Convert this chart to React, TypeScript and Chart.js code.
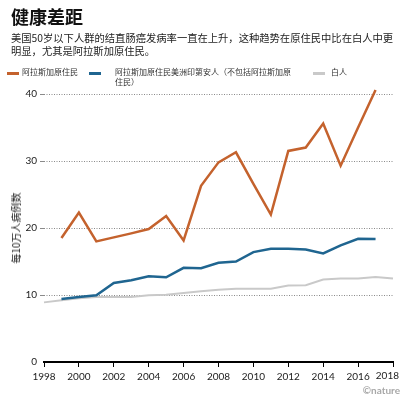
import React, { useEffect, useRef } from "react";
import { Chart, registerables } from "chart.js";

Chart.register(...registerables);

const TITLE = "健康差距";
const SUBTITLE_1 = "美国50岁以下人群的结直肠癌发病率一直在上升，这种趋势在原住民中比在白人中更";
const SUBTITLE_2 = "明显，尤其是阿拉斯加原住民。";
const Y_TITLE = "每10万人病例数";
const CREDIT = "©nature";

const SERIES_NAMES = [
  "阿拉斯加原住民",
  "阿拉斯加原住民美洲印第安人（不包括阿拉斯加原住民）",
  "白人",
];
const LEGEND_BLUE_LINE1 = "阿拉斯加原住民美洲印第安人（不包括阿拉斯加原";
const LEGEND_BLUE_LINE2 = "住民）";

const COLORS = ["#c4622d", "#1f6590", "#c9c9c9"];

const YEARS_NATIVE = [1999, 2000, 2001, 2002, 2003, 2004, 2005, 2006, 2007, 2008, 2009, 2010, 2011, 2012, 2013, 2014, 2015, 2016, 2017];
const ALASKA_NATIVE = [18.5, 22.3, 18.0, 18.6, 19.2, 19.85, 21.8, 18.15, 26.3, 29.8, 31.3, 26.6, 22.0, 31.5, 32.0, 35.6, 29.3, 35.0, 40.6];
const AMERICAN_INDIAN = [9.4, 9.7, 9.95, 11.8, 12.2, 12.8, 12.65, 14.05, 14.0, 14.8, 15.0, 16.4, 16.9, 16.9, 16.8, 16.2, 17.4, 18.4, 18.35];

const YEARS_WHITE = [1998, 1999, 2000, 2001, 2002, 2003, 2004, 2005, 2006, 2007, 2008, 2009, 2010, 2011, 2012, 2013, 2014, 2015, 2016, 2017, 2018];
const WHITE = [8.9, 9.2, 9.5, 9.7, 9.7, 9.7, 9.95, 10.05, 10.3, 10.55, 10.8, 10.95, 10.95, 10.95, 11.4, 11.45, 12.3, 12.45, 12.45, 12.7, 12.45];

const X_MIN = 1998;
const X_MAX = 2018;
const X_STEP = 2;
const Y_MIN = 0;
const Y_MAX = 40;
const Y_STEP = 10;

const NUM_FONT = "Lato, 'Noto Sans CJK SC', sans-serif";
const CJK_FONT = "'Noto Sans CJK SC', 'Noto Sans', sans-serif";

function toPoints(xs: number[], ys: number[]) {
  return xs.map((x, i) => ({ x, y: ys[i] }));
}

// Draws the last x tick label kept inside the canvas (right-aligned when it would overflow)
const lastXLabelPlugin = {
  id: "lastXLabel",
  afterDraw(chart: any) {
    const scale = chart.scales.x;
    if (!scale) return;
    const ctx = chart.ctx;
    const label = String(X_MAX);
    ctx.save();
    ctx.font = `10px ${NUM_FONT}`;
    ctx.fillStyle = "#222";
    ctx.textBaseline = "top";
    const w = ctx.measureText(label).width;
    const px = scale.getPixelForValue(X_MAX);
    const cx = Math.min(px, chart.width - 1 - w / 2);
    ctx.textAlign = "center";
    ctx.fillText(label, cx, scale.top + 5 + 4);
    ctx.restore();
  },
};

export default function App() {
  const canvasRef = useRef<HTMLCanvasElement | null>(null);

  useEffect(() => {
    const canvas = canvasRef.current;
    if (!canvas) return;
    const chart = new Chart(canvas, {
      type: "line",
      data: {
        datasets: [
          {
            label: SERIES_NAMES[0],
            data: toPoints(YEARS_NATIVE, ALASKA_NATIVE),
            borderColor: COLORS[0],
            backgroundColor: COLORS[0],
            borderWidth: 2.5,
            pointRadius: 0,
            tension: 0,
            clip: false as any,
          },
          {
            label: SERIES_NAMES[1],
            data: toPoints(YEARS_NATIVE, AMERICAN_INDIAN),
            borderColor: COLORS[1],
            backgroundColor: COLORS[1],
            borderWidth: 2.5,
            pointRadius: 0,
            tension: 0,
            clip: false as any,
          },
          {
            label: SERIES_NAMES[2],
            data: toPoints(YEARS_WHITE, WHITE),
            borderColor: COLORS[2],
            backgroundColor: COLORS[2],
            borderWidth: 2,
            pointRadius: 0,
            tension: 0,
            clip: false as any,
          },
        ],
      },
      options: {
        animation: false,
        responsive: false,
        devicePixelRatio: 1,
        layout: { padding: { top: 94, right: 7, left: 0, bottom: 0 } },
        plugins: {
          legend: { display: false },
          tooltip: { enabled: false },
          title: { display: false },
        },
        scales: {
          x: {
            type: "linear",
            min: X_MIN,
            max: X_MAX,
            afterFit: (s: any) => {
              s.height = 38;
              s.paddingLeft = 0;
              s.paddingRight = 0;
            },
            ticks: {
              stepSize: X_STEP,
              padding: 4,
              color: "#222",
              font: { family: NUM_FONT, size: 10 },
              maxRotation: 0,
              autoSkip: false,
              callback: (v: any) => (v === X_MAX ? "" : String(v)),
            },
            grid: {
              drawOnChartArea: false,
              drawTicks: true,
              tickLength: 5,
              color: "#000",
              lineWidth: 1,
            },
            border: { display: true, color: "#000", width: 2 },
          },
          y: {
            type: "linear",
            min: Y_MIN,
            max: Y_MAX,
            afterFit: (s: any) => {
              s.width = 44;
            },
            ticks: {
              stepSize: Y_STEP,
              padding: 3,
              color: "#222",
              font: { family: NUM_FONT, size: 10 },
            },
            grid: {
              color: (ctx: any) => (ctx.tick && ctx.tick.value === 0 ? "rgba(0,0,0,0)" : "#8a8a8a"),
              lineWidth: 1,
              tickLength: 4,
              drawTicks: true,
            },
            border: { display: false, dash: [1, 1.5] },
          },
        },
      },
      plugins: [lastXLabelPlugin],
    });
    return () => chart.destroy();
  }, []);

  const swatch = (color: string, left: number) => (
    <div
      style={{
        position: "absolute",
        left,
        top: 72,
        width: 12,
        height: 2.5,
        background: color,
      }}
    />
  );

  return (
    <div
      style={{
        position: "fixed",
        left: 0,
        top: 0,
        width: 400,
        height: 400,
        background: "#fff",
        overflow: "hidden",
      }}
    >
      <canvas
        ref={canvasRef}
        width={400}
        height={400}
        style={{ position: "absolute", left: 0, top: 0, width: 400, height: 400 }}
      />
      <div
        style={{
          position: "absolute",
          left: 11,
          top: 6,
          fontFamily: CJK_FONT,
          fontWeight: 700,
          fontSize: 18,
          lineHeight: "20px",
          color: "#111",
          whiteSpace: "nowrap",
        }}
      >
        {TITLE}
      </div>
      <div
        style={{
          position: "absolute",
          left: 11,
          top: 31,
          fontFamily: CJK_FONT,
          fontSize: 10.3,
          lineHeight: "13px",
          color: "#222",
          whiteSpace: "nowrap",
        }}
      >
        <div>{SUBTITLE_1}</div>
        <div>{SUBTITLE_2}</div>
      </div>
      {swatch(COLORS[0], 7)}
      <div
        style={{
          position: "absolute",
          left: 22,
          top: 67,
          fontFamily: CJK_FONT,
          fontSize: 8,
          lineHeight: "10px",
          color: "#333",
          whiteSpace: "nowrap",
        }}
      >
        {SERIES_NAMES[0]}
      </div>
      {swatch(COLORS[1], 89)}
      <div
        style={{
          position: "absolute",
          left: 115,
          top: 67,
          fontFamily: CJK_FONT,
          fontSize: 8,
          lineHeight: "10px",
          color: "#333",
          whiteSpace: "nowrap",
        }}
      >
        <div>{LEGEND_BLUE_LINE1}</div>
        <div>{LEGEND_BLUE_LINE2}</div>
      </div>
      {swatch(COLORS[2], 313)}
      <div
        style={{
          position: "absolute",
          left: 331,
          top: 67,
          fontFamily: CJK_FONT,
          fontSize: 8,
          lineHeight: "10px",
          color: "#333",
          whiteSpace: "nowrap",
        }}
      >
        {SERIES_NAMES[2]}
      </div>
      <div
        style={{
          position: "absolute",
          left: 16,
          top: 228,
          transform: "translate(-50%, -50%) rotate(-90deg)",
          fontFamily: CJK_FONT,
          fontSize: 10,
          lineHeight: "12px",
          color: "#222",
          whiteSpace: "nowrap",
        }}
      >
        {Y_TITLE}
      </div>
      <div
        style={{
          position: "absolute",
          right: 0,
          top: 384,
          fontFamily: NUM_FONT,
          fontSize: 10,
          fontWeight: 700,
          lineHeight: "12px",
          color: "#a8a8a8",
          whiteSpace: "nowrap",
        }}
      >
        {CREDIT}
      </div>
    </div>
  );
}
